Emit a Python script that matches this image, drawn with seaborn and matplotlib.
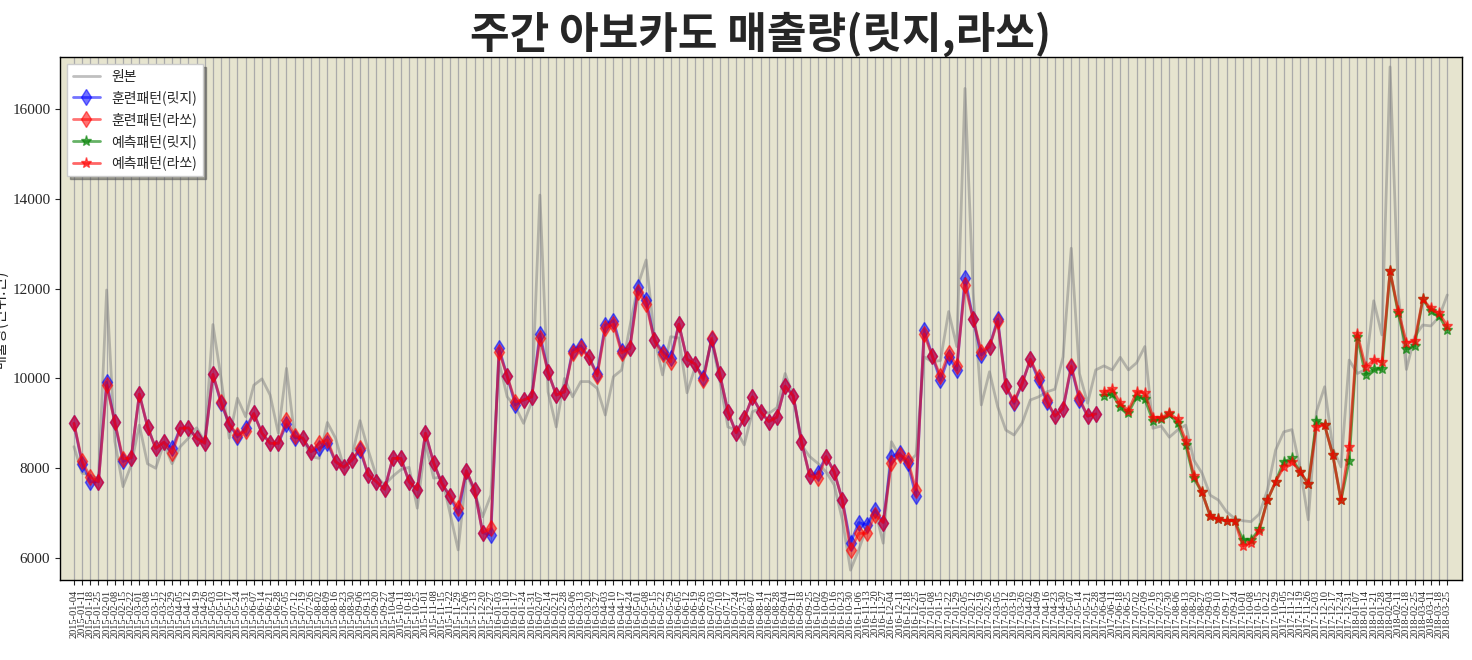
import numpy as np
import pandas as pd
import matplotlib
matplotlib.use('Agg')
import matplotlib.pyplot as plt
import seaborn as sns

# weekly dates (x axis)
start_date = '2015-01-04'
n_weeks = 169
train_end = 126  # first forecast week index

# original weekly sales
original = [
    8480, 7890, 7850, 7760, 11970, 8600, 7590, 8070, 8960, 8100,
    8000, 8550, 8100, 8480, 8670, 8900, 8590, 11200, 10000, 8670,
    9560, 9150, 9850, 9990, 9630, 8780, 10225, 8700, 8670, 8260,
    8220, 9020, 8670, 8030, 8260, 9060, 8400, 7820, 7630, 7820,
    7970, 8020, 7110, 8560, 7780, 7800, 7000, 6180, 7890, 7450,
    6920, 7400, 10370, 9590, 9370, 9000, 9480, 14085, 9700, 8920,
    10000, 9590, 9930, 9930, 9780, 9185, 10040, 10190, 11150, 12080,
    12640, 10930, 10080, 10930, 10900, 9680, 10260, 10080, 10850, 9960,
    8920, 8850, 8520, 9260, 9330, 9220, 9350, 10110, 9600, 8520,
    8260, 8110, 7920, 7630, 6850, 5730, 6180, 6700, 7070, 6330,
    8590, 8260, 8110, 8300, 10480, 10370, 10400, 11490, 10710, 16460,
    11900, 9410, 10150, 9370, 8850, 8740, 9010, 9520, 9590, 9700,
    9760, 10480, 12900, 10110, 9450, 10190, 10280, 10190, 10470, 10190,
    10350, 10710, 8890, 8940, 8690, 8850, 8960, 8180, 7890, 7400,
    7290, 7030, 6880, 6830, 6810, 6980, 7515, 8405, 8810, 8860,
    8000, 6850, 9260, 9815, 8440, 8030, 10410, 10110, 10200, 11730,
    10970, 16940, 11900, 10200, 10930, 11190, 11170, 11370, 11860,
]

train_ridge = [
    9000, 8100, 7700, 7700, 9913, 9020, 8150, 8230, 9650, 8925,
    8440, 8580, 8440, 8890, 8900, 8670, 8555, 10090, 9445, 8980,
    8700, 8890, 9220, 8780, 8555, 8555, 8980, 8680, 8670, 8370,
    8440, 8555, 8145, 8020, 8180, 8405, 7850, 7700, 7530, 8220,
    8220, 7700, 7520, 8780, 8120, 7660, 7380, 6995, 7945, 7520,
    6564, 6512, 10670, 10050, 9410, 9520, 9590, 10990, 10140, 9630,
    9700, 10620, 10730, 10470, 10100, 11190, 11290, 10620, 10670, 12030,
    11750, 10855, 10600, 10450, 11210, 10425, 10320, 10000, 10870, 10100,
    9260, 8790, 9110, 9590, 9260, 9040, 9140, 9830, 9610, 8590,
    7830, 7890, 8260, 7920, 7290, 6330, 6790, 6735, 7070, 6790,
    8260, 8330, 8110, 7380, 11090, 10500, 9960, 10480, 10190, 12230,
    11320, 10520, 10710, 11320, 9830, 9445, 9890, 10425, 9960, 9480,
    9160, 9330, 10250, 9520, 9160, 9210,
]

train_lasso = [
    9000, 8150, 7800, 7700, 9850, 9020, 8210, 8230, 9650, 8925,
    8440, 8580, 8330, 8890, 8900, 8670, 8555, 10090, 9480, 8980,
    8740, 8820, 9220, 8780, 8555, 8555, 9070, 8720, 8670, 8370,
    8555, 8630, 8145, 8020, 8180, 8450, 7850, 7700, 7530, 8220,
    8220, 7700, 7520, 8780, 8120, 7660, 7380, 7107, 7945, 7520,
    6564, 6660, 10600, 10050, 9480, 9520, 9590, 10890, 10140, 9630,
    9700, 10570, 10670, 10470, 10060, 11115, 11210, 10570, 10670, 11930,
    11660, 10855, 10540, 10370, 11210, 10425, 10320, 9960, 10900, 10100,
    9260, 8790, 9110, 9590, 9260, 9040, 9140, 9830, 9610, 8590,
    7830, 7775, 8260, 7920, 7290, 6180, 6550, 6550, 6960, 6790,
    8110, 8300, 8180, 7515, 10990, 10500, 10050, 10570, 10280, 12080,
    11320, 10600, 10710, 11270, 9830, 9480, 9890, 10425, 10030, 9520,
    9160, 9330, 10280, 9555, 9160, 9210,
]

pred_ridge = [
    9615, 9650, 9370, 9240, 9590, 9540, 9050, 9090, 9200, 9000,
    8520, 7775, 7460, 6935, 6860, 6830, 6830, 6400, 6400, 6640,
    7290, 7700, 8145, 8220, 7920, 7650, 9060, 8960, 8290, 7290,
    8170, 10915, 10080, 10200, 10200, 12390, 11450, 10650, 10720, 11760,
    11510, 11390, 11080,
]

pred_lasso = [
    9700, 9760, 9445, 9280, 9700, 9670, 9130, 9130, 9220, 9090,
    8610, 7830, 7460, 6935, 6860, 6830, 6830, 6270, 6340, 6610,
    7290, 7700, 8030, 8145, 7920, 7650, 8925, 8960, 8290, 7290,
    8480, 10990, 10250, 10410, 10370, 12390, 11510, 10800, 10830, 11760,
    11560, 11450, 11170,
]

dates = pd.date_range(start_date, periods=n_weeks, freq='7D').strftime('%Y-%m-%d')
idx = np.arange(n_weeks)

sns.set_style('ticks')
plt.rcParams['font.family'] = ['Noto Sans CJK KR', 'DejaVu Sans']
plt.rcParams['axes.unicode_minus'] = False

fig = plt.figure(figsize=(14.72, 6.6), dpi=100)
ax = fig.add_axes([0.0408, 0.1212, 0.9524, 0.7924])
ax.set_facecolor('#e6e4cf')

sns.lineplot(x=idx, y=original, color='gray', alpha=0.5, linewidth=2,
             label='원본', ax=ax)
sns.lineplot(x=idx[:train_end], y=train_ridge, color='blue', alpha=0.55,
             linewidth=2, marker='d', markersize=8, markeredgecolor='blue',
             markeredgewidth=1, label='훈련패턴(릿지)', ax=ax)
sns.lineplot(x=idx[:train_end], y=train_lasso, color='red', alpha=0.55,
             linewidth=2, marker='d', markersize=8, markeredgecolor='red',
             markeredgewidth=1, label='훈련패턴(라쏘)', ax=ax)
sns.lineplot(x=idx[train_end:], y=pred_ridge, color='green', alpha=0.6,
             linewidth=2, marker='*', markersize=8, markeredgecolor='green',
             markeredgewidth=1, label='예측패턴(릿지)', ax=ax)
sns.lineplot(x=idx[train_end:], y=pred_lasso, color='red', alpha=0.6,
             linewidth=2, marker='*', markersize=8, markeredgecolor='red',
             markeredgewidth=1, label='예측패턴(라쏘)', ax=ax)

ax.set_xlim(-1.7, 169.8)
ax.set_ylim(5510, 17160)
ax.set_xticks(idx)
ax.set_xticklabels(dates, rotation=90, fontsize=7.5, family='Liberation Serif')
ax.set_yticks([6000, 8000, 10000, 12000, 14000, 16000])
for t in ax.get_yticklabels():
    t.set_family('Liberation Serif')
    t.set_fontsize(11)
ax.grid(axis='x', color='#aaaaaa', linewidth=0.9)
ax.grid(axis='y', visible=False)
for sp in ax.spines.values():
    sp.set_visible(True)
    sp.set_color('black')
    sp.set_linewidth(1)

ax.set_title('주간 아보카도 매출량(릿지,라쏘)', fontsize=31, fontweight='bold', pad=4)
ax.set_ylabel('매출량(단위:만)', fontsize=11)
ax.yaxis.set_label_coords(-0.037, 0.5)
ax.set_xlabel('날짜', fontsize=14)
ax.xaxis.set_label_coords(0.5, -0.178)

ax.legend(loc='upper left', shadow=True, framealpha=1, facecolor='white',
          edgecolor='#cccccc', fancybox=False, fontsize=10)

plt.savefig('out.png', dpi=100)
